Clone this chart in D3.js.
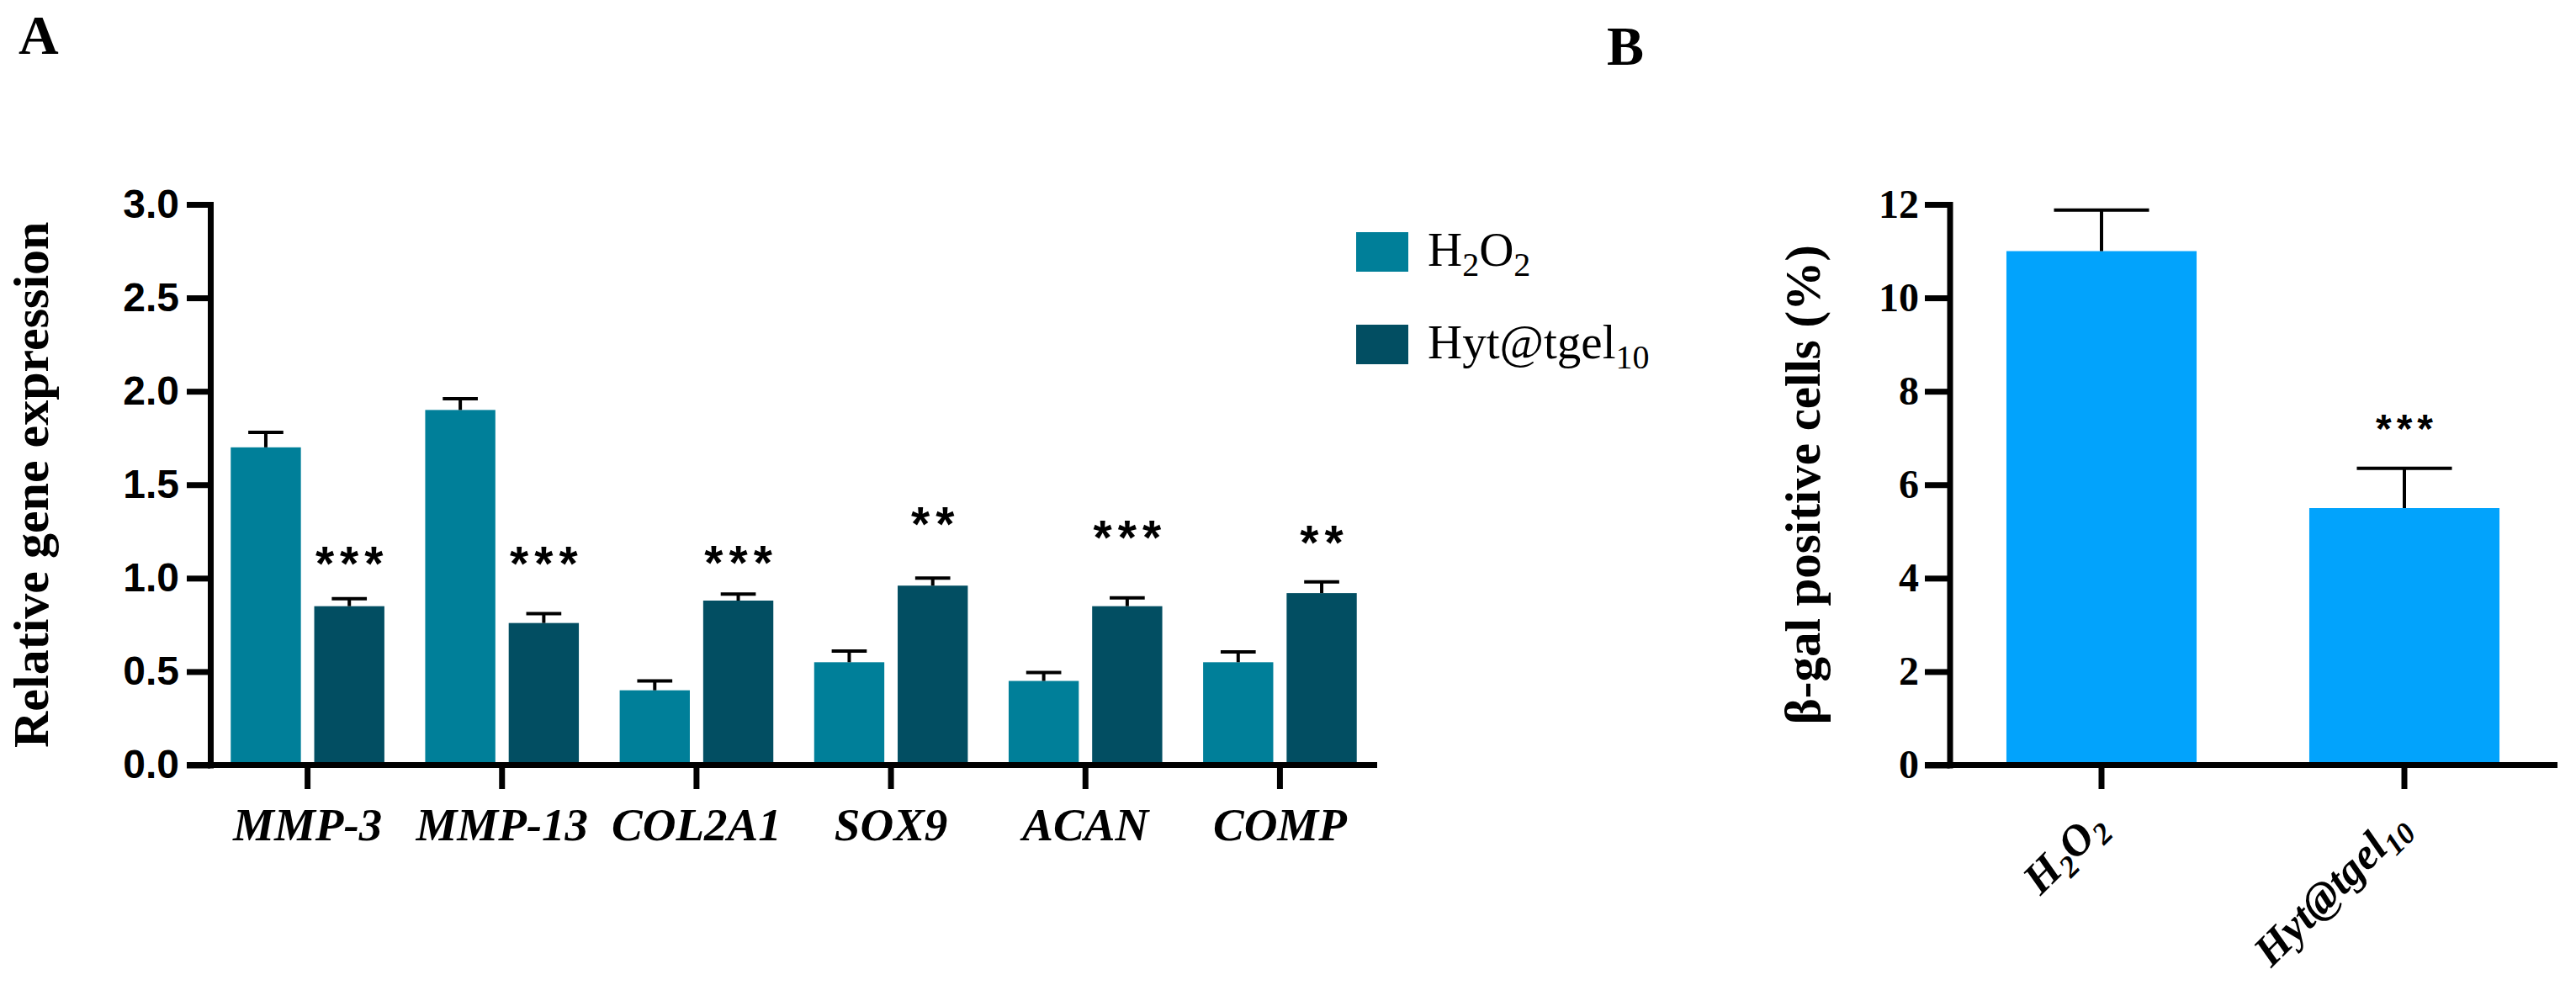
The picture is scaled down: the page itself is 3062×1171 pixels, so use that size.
<!DOCTYPE html>
<html>
<head>
<meta charset="utf-8">
<script src="https://cdn.jsdelivr.net/npm/d3@7"></script>
<style>
  html, body { margin: 0; padding: 0; background: #fff; }
  svg { display: block; }
</style>
</head>
<body>
<svg id="chart" width="3062" height="1171"></svg>
<script>
// ---------- Panel A data ----------
const genes = ["MMP-3", "MMP-13", "COL2A1", "SOX9", "ACAN", "COMP"];
const seriesA = ["H2O2", "Hyt@tgel10"];
const h2o2Mean = [1.70, 1.90, 0.40, 0.55, 0.45, 0.55];
const h2o2Err  = [0.08, 0.06, 0.05, 0.06, 0.045, 0.055];
const hytMean  = [0.85, 0.76, 0.88, 0.96, 0.85, 0.92];
const hytErr   = [0.04, 0.05, 0.035, 0.04, 0.045, 0.06];
const hytSig   = ["***", "***", "***", "**", "***", "**"];
const hytSigAt = [1.136, 1.136, 1.14, 1.348, 1.276, 1.247];
const yTicksA  = [0, 0.5, 1.0, 1.5, 2.0, 2.5, 3.0];

// ---------- Panel B data ----------
const groupsB = ["H2O2", "Hyt@tgel10"];
const bMean   = [11.0, 5.5];
const bErr    = [0.88, 0.85];
const bSig    = ["", "***"];
const bSigAt  = [0, 7.40];
const yTicksB = [0, 2, 4, 6, 8, 10, 12];

// ---------- styles ----------
const colA = ["#007F99", "#024E62"];
const colB = "#02A3FC";
const serif = "'Liberation Serif', 'Times New Roman', serif";
const sans = "'Liberation Sans', Arial, sans-serif";

const svg = d3.select("#chart");

function labelParts(name) {
  if (name === "H2O2") return [["H", false], ["2", true], ["O", false], ["2", true]];
  if (name === "Hyt@tgel10") return [["Hyt@tgel", false], ["10", true]];
  return [[name, false]];
}
function writeParts(textSel, name, fs, subFs, shift) {
  let low = false;
  labelParts(name).forEach(([t, sub]) => {
    const ts = textSel.append("tspan").text(t);
    if (sub) {
      ts.attr("font-size", subFs).attr("dy", low ? 0 : shift);
      low = true;
    } else {
      ts.attr("font-size", fs).attr("dy", low ? -shift : 0);
      low = false;
    }
  });
}

// ================= PANEL A =================
const xA = d3.scaleBand().domain(genes).range([250, 1637]).paddingInner(0.21).paddingOuter(0.105);
const xSub = d3.scaleBand().domain(seriesA).range([0, xA.bandwidth()]).paddingInner(0.16);
const yA = d3.scaleLinear().domain([0, 3]).range([909.5, 243]);

const rowsA = genes.map((g, i) => ({
  gene: g,
  vals: [
    { s: seriesA[0], v: h2o2Mean[i], e: h2o2Err[i], c: colA[0] },
    { s: seriesA[1], v: hytMean[i], e: hytErr[i], c: colA[1] }
  ]
}));

const gA = svg.append("g");
const grp = gA.selectAll("g.grp").data(rowsA).join("g")
  .attr("transform", d => `translate(${xA(d.gene)},0)`);
grp.selectAll("rect").data(d => d.vals).join("rect")
  .attr("x", d => xSub(d.s))
  .attr("width", xSub.bandwidth())
  .attr("y", d => yA(d.v))
  .attr("height", d => yA(0) - yA(d.v))
  .attr("fill", d => d.c);
grp.selectAll("line.ev").data(d => d.vals).join("line")
  .attr("x1", d => xSub(d.s) + xSub.bandwidth() / 2)
  .attr("x2", d => xSub(d.s) + xSub.bandwidth() / 2)
  .attr("y1", d => yA(d.v)).attr("y2", d => yA(d.v + d.e))
  .attr("stroke", "#000").attr("stroke-width", 4);
grp.selectAll("line.ec").data(d => d.vals).join("line")
  .attr("x1", d => xSub(d.s) + xSub.bandwidth() / 4)
  .attr("x2", d => xSub(d.s) + xSub.bandwidth() * 3 / 4)
  .attr("y1", d => yA(d.v + d.e)).attr("y2", d => yA(d.v + d.e))
  .attr("stroke", "#000").attr("stroke-width", 4);
const starFsA = 57, starLsA = 7;
gA.selectAll("text.sig").data(genes).join("text")
  .attr("x", (g) => xA(g) + xSub(seriesA[1]) + xSub.bandwidth() / 2 + starLsA / 2)
  .attr("y", (g, i) => yA(hytSigAt[i]) + 0.57 * starFsA)
  .attr("text-anchor", "middle")
  .attr("font-family", sans).attr("font-weight", "bold")
  .attr("font-size", starFsA).attr("letter-spacing", starLsA)
  .text((g, i) => hytSig[i]);

const axA = gA.append("g").attr("transform", "translate(250,0)")
  .call(d3.axisLeft(yA).tickValues(yTicksA).tickFormat(d3.format(".1f")).tickSize(28).tickSizeOuter(0).tickPadding(9));
axA.select(".domain").attr("stroke-width", 7).attr("stroke-linecap", "square");
axA.selectAll(".tick line").attr("stroke-width", 7);
axA.selectAll(".tick text").attr("font-family", sans).attr("font-weight", "bold")
  .attr("font-size", 48).attr("fill", "#000");
const axXA = gA.append("g").attr("transform", `translate(0,${yA(0)})`)
  .call(d3.axisBottom(xA).tickSize(28.5).tickSizeOuter(0));
axXA.select(".domain").remove();
axXA.selectAll(".tick line").attr("stroke-width", 7);
axXA.selectAll(".tick text").attr("y", 89.5).attr("dy", 0)
  .attr("font-family", serif).attr("font-weight", "bold").attr("font-style", "italic")
  .attr("font-size", 55).attr("fill", "#000");
gA.append("line")
  .attr("x1", 250 - 28).attr("x2", xA.range()[1])
  .attr("y1", yA(0)).attr("y2", yA(0))
  .attr("stroke", "#000").attr("stroke-width", 7);

svg.append("text")
  .attr("transform", `translate(57,${(yA(0) + yA(3)) / 2}) rotate(-90)`)
  .attr("text-anchor", "middle")
  .attr("font-family", serif).attr("font-weight", "bold").attr("font-size", 60)
  .text("Relative gene expression");

const leg = svg.append("g");
seriesA.forEach((s, i) => {
  const yy = 276 + i * 110;
  leg.append("rect").attr("x", 1612).attr("y", yy).attr("width", 62).attr("height", 47).attr("fill", colA[i]);
  const t = leg.append("text").attr("x", 1697).attr("y", yy + 40)
    .attr("font-family", serif).attr("font-size", 57).attr("fill", "#000");
  writeParts(t, s, 57, 40, 12);
});

svg.append("text").attr("x", 22).attr("y", 64)
  .attr("font-family", serif).attr("font-weight", "bold").attr("font-size", 66).text("A");
svg.append("text").attr("x", 1910).attr("y", 77)
  .attr("font-family", serif).attr("font-weight", "bold").attr("font-size", 66).text("B");

// ================= PANEL B =================
const xB = d3.scaleBand().domain(groupsB).range([2318, 3038]).paddingInner(0.372).paddingOuter(0.186);
const yB = d3.scaleLinear().domain([0, 12]).range([909.5, 243]);
const gB = svg.append("g");
const rowsB = groupsB.map((g, i) => ({ g, v: bMean[i], e: bErr[i], sig: bSig[i], at: bSigAt[i] }));

gB.selectAll("rect").data(rowsB).join("rect")
  .attr("x", d => xB(d.g)).attr("width", xB.bandwidth())
  .attr("y", d => yB(d.v)).attr("height", d => yB(0) - yB(d.v))
  .attr("fill", colB);
gB.selectAll("line.ev").data(rowsB).join("line")
  .attr("x1", d => xB(d.g) + xB.bandwidth() / 2).attr("x2", d => xB(d.g) + xB.bandwidth() / 2)
  .attr("y1", d => yB(d.v)).attr("y2", d => yB(d.v + d.e))
  .attr("stroke", "#000").attr("stroke-width", 4);
gB.selectAll("line.ec").data(rowsB).join("line")
  .attr("x1", d => xB(d.g) + xB.bandwidth() / 4).attr("x2", d => xB(d.g) + xB.bandwidth() * 3 / 4)
  .attr("y1", d => yB(d.v + d.e)).attr("y2", d => yB(d.v + d.e))
  .attr("stroke", "#000").attr("stroke-width", 4);
const starFsB = 48, starLsB = 6;
gB.selectAll("text.sig").data(rowsB.filter(d => d.sig)).join("text")
  .attr("x", d => xB(d.g) + xB.bandwidth() / 2 + starLsB / 2)
  .attr("y", d => yB(d.at) + 0.57 * starFsB)
  .attr("text-anchor", "middle")
  .attr("font-family", sans).attr("font-weight", "bold")
  .attr("font-size", starFsB).attr("letter-spacing", starLsB)
  .text(d => d.sig);

const axB = gB.append("g").attr("transform", "translate(2317.5,0)")
  .call(d3.axisLeft(yB).tickValues(yTicksB).tickFormat(d3.format("d")).tickSize(29.5).tickSizeOuter(0).tickPadding(7));
axB.select(".domain").attr("stroke-width", 7).attr("stroke-linecap", "square");
axB.selectAll(".tick line").attr("stroke-width", 7);
axB.selectAll(".tick text").attr("font-family", serif).attr("font-weight", "bold")
  .attr("font-size", 48).attr("fill", "#000");

const axXB = gB.append("g").attr("transform", `translate(0,${yB(0)})`)
  .call(d3.axisBottom(xB).tickSize(28.5).tickSizeOuter(0).tickFormat(""));
axXB.select(".domain").remove();
axXB.selectAll(".tick line").attr("stroke-width", 7);
gB.append("line")
  .attr("x1", 2317.5 - 29.5).attr("x2", 3040)
  .attr("y1", yB(0)).attr("y2", yB(0))
  .attr("stroke", "#000").attr("stroke-width", 7);

groupsB.forEach(g => {
  const cx = xB(g) + xB.bandwidth() / 2;
  const t = gB.append("text")
    .attr("transform", `translate(${cx + 8},${985}) rotate(-45)`)
    .attr("text-anchor", "end")
    .attr("font-family", serif).attr("font-weight", "bold").attr("font-style", "italic")
    .attr("font-size", 52).attr("fill", "#000");
  writeParts(t, g, 52, 36, 11);
});

svg.append("text")
  .attr("transform", `translate(2163,${(yB(0) + yB(12)) / 2}) rotate(-90)`)
  .attr("text-anchor", "middle")
  .attr("font-family", serif).attr("font-weight", "bold").attr("font-size", 59)
  .text("β-gal positive cells (%)");
</script>
</body>
</html>
